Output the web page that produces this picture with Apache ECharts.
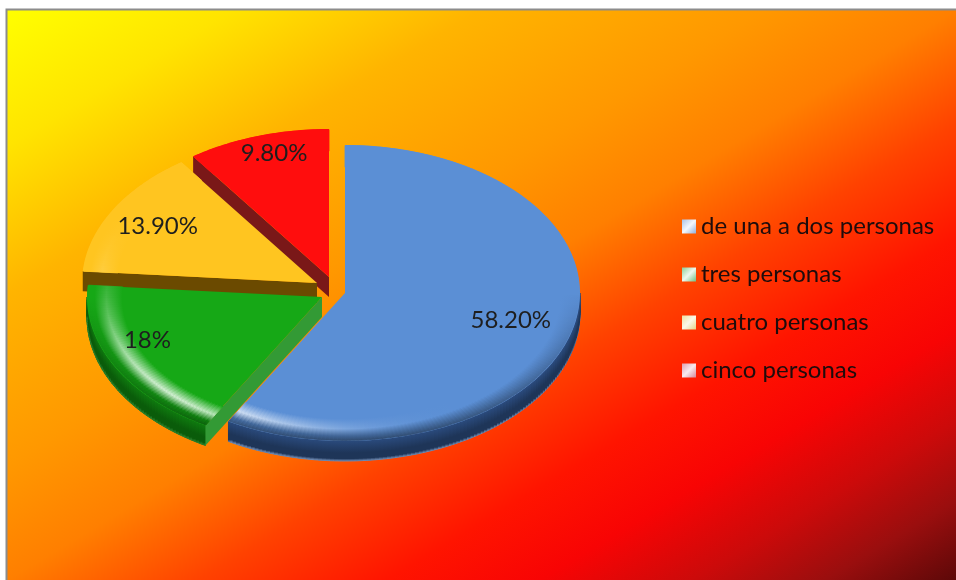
<!DOCTYPE html>
<html>
<head>
<meta charset="utf-8">
<script src="https://cdn.jsdelivr.net/npm/echarts@6/dist/echarts.min.js"></script>
<style>
  html, body { margin: 0; padding: 0; background: #ffffff; }
  #chart { width: 956px; height: 580px; }
</style>
</head>
<body>
<div id="chart"></div>
<script>
// Household size shares
const categories = ['de una a dos personas', 'tres personas', 'cuatro personas', 'cinco personas'];
const shares = [58.2, 18, 13.9, 9.8];
const shareLabels = ['58.20%', '18%', '13.90%', '9.80%'];

// Layout and look of the tilted pie
const pie = { cx: 330, cy: 287, rx: 235, ry: 148, depth: 20 };
const explodeShift = [[15, 6], [-8, 10], [-13, -4], [-1, -10]];
const labelRadius = [[0.73, 0.73], [0.84, 0.62], [0.78, 0.78], [0.77, 0.88]];
const palette = [
  { top: '#5b8fd5', wall: ['#2a4a7c', '#1e3558', '#6d88b0'], radial: '#4a78b8' },
  { top: '#16a816', wall: ['#0f7a0f', '#0a5c0a', '#2a7f2a'], radial: '#339a35' },
  { top: '#ffc520', wall: ['#7a5500', '#5e4000', '#6e4c00'], radial: '#6b4a00' },
  { top: '#ff0d0d', wall: ['#8a1a1a', '#6a1212', '#7a1818'], radial: '#7a1818' }
];
const legendKeys = [
  ['#aac3e6', '#f4f8fc', '#8fb0dc'],
  ['#8ccf98', '#eef8ef', '#6fbf80'],
  ['#eee0a0', '#fbf8ea', '#e4d488'],
  ['#e0a0b0', '#f8eaee', '#d68898']
];
const bgStops = [
  [0, '#ffff00'], [0.12, '#ffe400'], [0.25, '#ffb400'], [0.4, '#ff9800'],
  [0.5, '#ff7f00'], [0.6, '#ff4200'], [0.7, '#ff1400'], [0.78, '#f80404'],
  [0.86, '#cc0a0a'], [0.93, '#9a0e0e'], [1, '#5c0808']
];

const G = echarts.graphic;
const DEG = Math.PI / 180;

function rgb(hex) {
  const n = parseInt(hex.slice(1), 16);
  return [(n >> 16) & 255, (n >> 8) & 255, n & 255];
}
function mix(hex, toward, f) {
  const a = rgb(hex), b = rgb(toward);
  f = Math.max(0, Math.min(1, f));
  return 'rgb(' + a.map((v, k) => Math.round(v + (b[k] - v) * f)).join(',') + ')';
}

const total = shares.reduce((s, v) => s + v, 0);

function renderSlice(i) {
  return function (params, api) {
    let before = 0;
    for (let k = 0; k < i; k++) before += shares[k];
    const a0 = before / total * 2 * Math.PI;
    const a1 = (before + api.value(0)) / total * 2 * Math.PI;
    const cx = pie.cx + explodeShift[i][0];
    const cy = pie.cy + explodeShift[i][1];
    const d = pie.depth;
    const P = (t, r, dz) => [cx + r * pie.rx * Math.sin(t), cy - r * pie.ry * Math.cos(t) + (dz || 0)];
    const pal = palette[i];
    const children = [];
    const highlight = t => Math.pow(Math.max(0, Math.cos(t - 225 * DEG)), 4);

    // outer rim wall, only where it faces the viewer
    const w0 = Math.max(a0, Math.PI / 2), w1 = Math.min(a1, 1.5 * Math.PI);
    if (w1 > w0) {
      const n = Math.max(2, Math.ceil((w1 - w0) / DEG));
      const topArc = [], botArc = [];
      for (let k = 0; k <= n; k++) {
        const t = w0 + (w1 - w0) * k / n;
        topArc.push(P(t, 1, 0));
        botArc.push(P(t, 1, d));
      }
      children.push({ type: 'polygon', z2: 1, shape: { points: topArc.concat(botArc.slice().reverse()) },
        style: { fill: pal.wall[1] } });
      for (let k = 0; k < n; k++) {
        const t = w0 + (w1 - w0) * (k + 0.5) / n;
        const pt = P(t, 1, 0), pb = P(t, 1, d);
        const grad = new G.LinearGradient(pt[0], pt[1], pb[0], pb[1], [
          { offset: 0, color: pal.wall[0] },
          { offset: 0.6, color: pal.wall[1] },
          { offset: 0.88, color: pal.wall[1] },
          { offset: 1, color: pal.wall[2] }
        ], true);
        children.push({ type: 'polygon', z2: 2,
          shape: { points: [topArc[k], topArc[k + 1], botArc[k + 1], botArc[k]] },
          style: { fill: grad, stroke: grad, lineWidth: 1 } });
      }
    }

    // radial cut faces that turn towards the viewer
    const radial = (a) => ({ type: 'polygon', z2: 3,
      shape: { points: [P(a, 0, 0), P(a, 1, 0), P(a, 1, d), P(a, 0, d)] },
      style: { fill: pal.radial } });
    if (Math.sin(a0) < -1e-6) children.push(radial(a0));
    if (Math.sin(a1) > 1e-6) children.push(radial(a1));

    // top face
    const n = Math.max(4, Math.ceil((a1 - a0) / DEG));
    const face = [P(a0, 0, 0)];
    for (let k = 0; k <= n; k++) face.push(P(a0 + (a1 - a0) * k / n, 1, 0));
    children.push({ type: 'polygon', z2: 4, shape: { points: face }, style: { fill: pal.top } });

    // bevelled rim on the top face
    for (let k = 0; k < n; k++) {
      const t0 = a0 + (a1 - a0) * k / n, t1 = a0 + (a1 - a0) * (k + 1) / n;
      const tm = (t0 + t1) / 2;
      const front = Math.max(0, -Math.cos(tm));
      const h = highlight(tm);
      const pin = P(tm, 0.85, 0), pout = P(tm, 1, 0);
      const grad = new G.LinearGradient(pin[0], pin[1], pout[0], pout[1], [
        { offset: 0, color: pal.top },
        { offset: 0.45, color: mix(pal.top, '#ffffff', h * 0.8) },
        { offset: 0.78, color: mix(pal.top, '#000000', front * 0.3) },
        { offset: 1, color: mix(pal.top, '#000000', front * 0.5) }
      ], true);
      const inset = 0.004;
      children.push({ type: 'polygon', z2: 5,
        shape: { points: [P(t0, 0.85, 0), P(t1, 0.85, 0), P(t1, 1 - inset, 0), P(t0, 1 - inset, 0)] },
        style: { fill: grad, stroke: grad, lineWidth: 0.8 } });
    }

    // value label
    const tm = (a0 + a1) / 2;
    const lr = labelRadius[i];
    const lp = [cx + lr[0] * pie.rx * Math.sin(tm), cy - lr[1] * pie.ry * Math.cos(tm)];
    children.push({ type: 'text', z2: 10, x: lp[0], y: lp[1],
      style: { text: shareLabels[i], fill: '#1e1e1e', fontSize: 24, fontFamily: 'Lato',
        align: 'center', verticalAlign: 'middle', textAlign: 'center', textVerticalAlign: 'middle' } });

    return { type: 'group', children: children };
  };
}

// background frame with a corner-to-corner gradient
const frame = { x: 6.5, y: 9.5, w: 950, h: 571 };
const gv = [1 / (2 * frame.w), 1 / (2 * frame.h)];
const gl = gv[0] * gv[0] + gv[1] * gv[1];
const bgGradient = new G.LinearGradient(frame.x, frame.y,
  frame.x + gv[0] / gl, frame.y + gv[1] / gl,
  bgStops.map(s => ({ offset: s[0], color: s[1] })), true);

const chart = echarts.init(document.getElementById('chart'), null, { renderer: 'canvas' });
chart.setOption({
  animation: false,
  graphic: [{
    type: 'rect', z: -10, silent: true,
    shape: { x: frame.x, y: frame.y, width: frame.w + 20, height: frame.h + 20 },
    style: { fill: bgGradient, stroke: '#8c8c8c', lineWidth: 2 }
  }],
  legend: {
    orient: 'vertical', left: 677, top: 208,
    itemWidth: 14, itemHeight: 14, itemGap: 21, icon: 'rect',
    textStyle: { fontFamily: 'Lato', fontSize: 24, color: '#1e0c0c', lineHeight: 27, padding: [0, 0, 0, 0] },
    data: categories.map((name, i) => ({
      name: name,
      itemStyle: { color: new G.LinearGradient(0, 0, 1, 1, [
        { offset: 0, color: legendKeys[i][0] },
        { offset: 0.5, color: legendKeys[i][1] },
        { offset: 1, color: legendKeys[i][2] }
      ]) }
    }))
  },
  series: categories.map((name, i) => ({
    type: 'custom', name: name, coordinateSystem: 'none',
    z: 10 - i, silent: true,
    itemStyle: { color: palette[i].top },
    renderItem: renderSlice(i),
    data: [[shares[i]]]
  }))
});
</script>
</body>
</html>
